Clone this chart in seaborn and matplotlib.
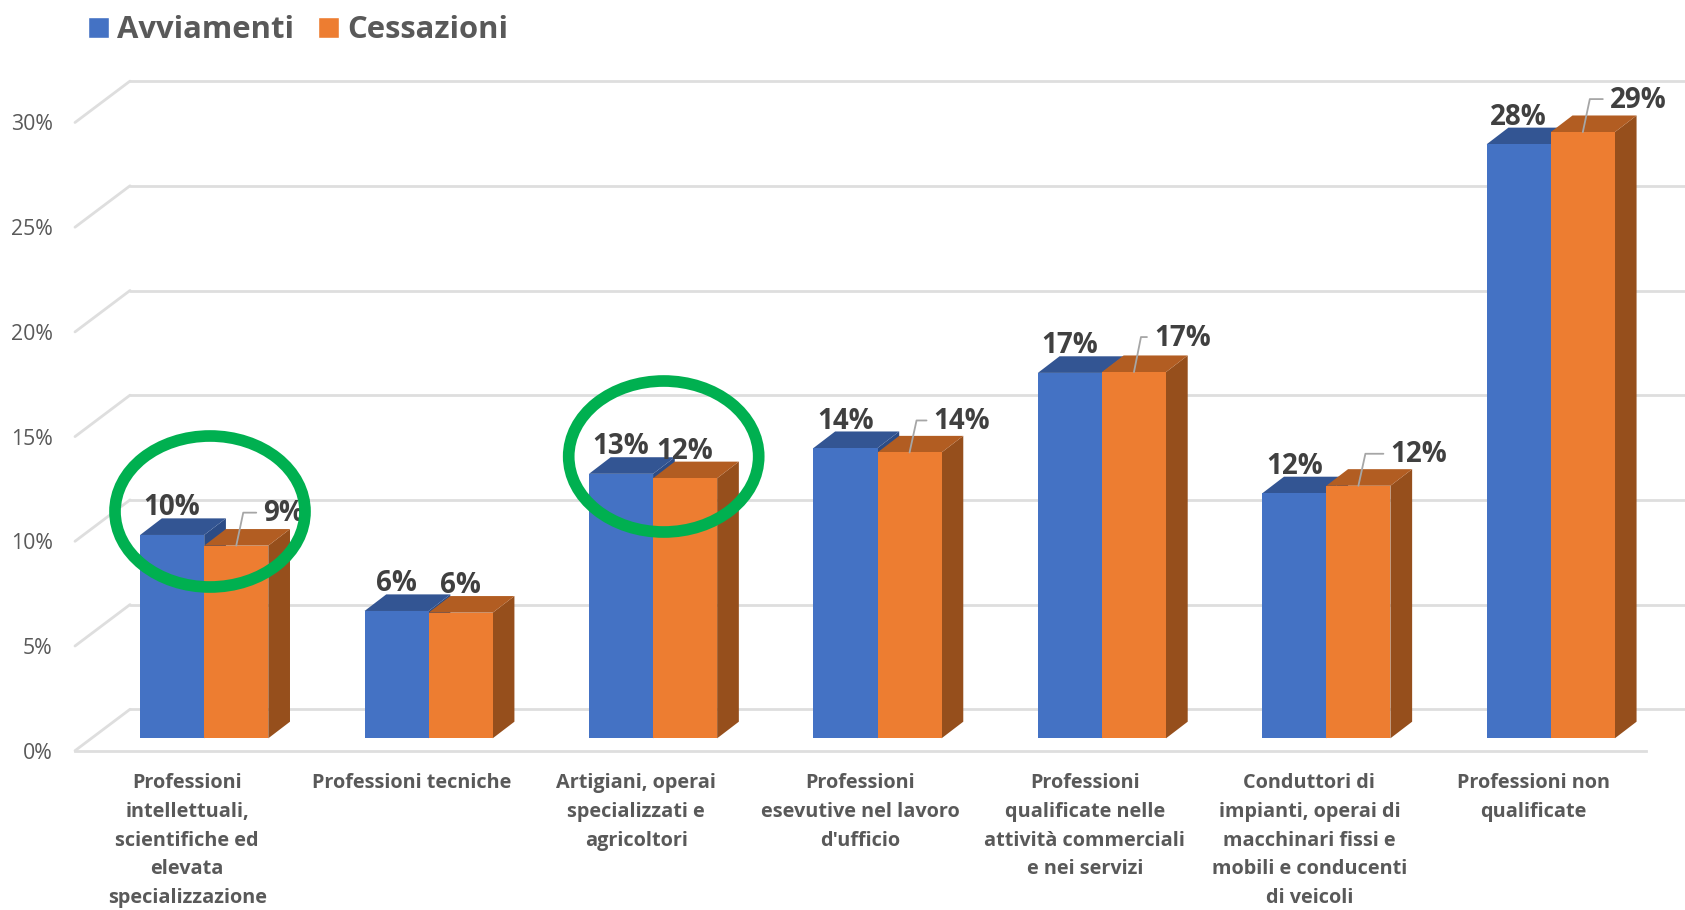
import pandas as pd
import matplotlib
matplotlib.use("Agg")
import matplotlib.pyplot as plt
import seaborn as sns
from matplotlib.patches import Polygon, Ellipse
from matplotlib.transforms import Affine2D, IdentityTransform

categorie = [
    "Professioni\nintellettuali,\nscientifiche ed\nelevata\nspecializzazione",
    "Professioni tecniche",
    "Artigiani, operai\nspecializzati e\nagricoltori",
    "Professioni\nesevutive nel lavoro\nd'ufficio",
    "Professioni\nqualificate nelle\nattività commerciali\ne nei servizi",
    "Conduttori di\nimpianti, operai di\nmacchinari fissi e\nmobili e conducenti\ndi veicoli",
    "Professioni non\nqualificate",
]
avviamenti = [9.71, 6.08, 12.63, 13.86, 17.45, 11.7, 28.37]
cessazioni = [9.2, 6.0, 12.42, 13.65, 17.49, 12.06, 28.95]
tick_y = [0, 5, 10, 15, 20, 25, 30]

# etichette con linea guida (offset in px rispetto al centro della barra)
callout = {0: (27, 32), 3: (24, 31), 4: (20, 34), 5: (32, 31), 6: (27, 32)}

BLU, BLU_TOP, BLU_SIDE = "#4472C4", "#335593", "#2C4C86"
ARA, ARA_TOP, ARA_SIDE = "#ED7D31", "#B25D22", "#964F1C"
GRIGIO = "#DEDEDE"

sns.set_theme(style="white")
plt.rcParams["font.family"] = ["Open Sans", "DejaVu Sans"]

W, H = 1685, 910
fig = plt.figure(figsize=(W / 100, H / 100), dpi=100)
ax = fig.add_axes([75 / W, (H - 750.7) / H, (1646 - 75) / W, 750.7 / H])

df = pd.DataFrame({
    "categoria": categorie * 2,
    "serie": ["Avviamenti"] * 7 + ["Cessazioni"] * 7,
    "valore": avviamenti + cessazioni,
})
sns.barplot(data=df, x="categoria", y="valore", hue="serie", palette=[BLU, ARA],
            width=0.571, gap=0, saturation=1, errorbar=None, ax=ax)

ax.set_xlim(-0.5, 6.5)
ax.set_ylim(0, 750.7 / 20.94)
ax.set_xlabel("")
ax.set_ylabel("")
sns.despine(ax=ax, left=True, top=True, right=True)
ax.spines["bottom"].set_color(GRIGIO)
ax.spines["bottom"].set_linewidth(2)

ax.set_yticks(tick_y)
ax.set_yticklabels([f"{t}%" for t in tick_y], fontsize=15.3, color="#595959")
ax.tick_params(axis="y", length=0, pad=16)
ax.tick_params(axis="x", length=0, pad=16)
for lab in ax.get_xticklabels():
    lab.set_fontsize(14.3)
    lab.set_fontweight("bold")
    lab.set_color("#595959")
    lab.set_linespacing(1.59)

# griglia sul fondo e sul lato sinistro
back_x, back_y = 55 / 224.4, 41.4 / 20.94
for t in tick_y:
    ax.plot([-0.5 + back_x, 7.0], [t + back_y, t + back_y], color=GRIGIO, lw=2,
            clip_on=False, zorder=1)
    ax.plot([-0.5, -0.5 + back_x], [t, t + back_y], color=GRIGIO, lw=2,
            clip_on=False, zorder=1)

# barre: facce frontali da seaborn, lati e tetti aggiunti
front = ax.transData + Affine2D().translate(17, 12.4)
dx, dy = 21.7 / 224.4, 16.6 / 20.94
colori = [(BLU_TOP, BLU_SIDE), (ARA_TOP, ARA_SIDE)]
for s, cont in enumerate(ax.containers):
    top_col, side_col = colori[s]
    for bar in cont:
        bar.set_transform(front)
        bar.set_clip_on(False)
        bar.set_zorder(3.1 + s)
        bar.set_linewidth(0)
        x0 = bar.get_x()
        x1 = x0 + bar.get_width()
        h = bar.get_height()
        ax.add_patch(Polygon([(x1, 0), (x1 + dx, dy), (x1 + dx, h + dy), (x1, h)],
                             color=side_col, lw=0, transform=front, zorder=3 + s, clip_on=False))
        ax.add_patch(Polygon([(x0, h), (x0 + dx, h + dy), (x1 + dx, h + dy), (x1, h)],
                             color=top_col, lw=0, transform=front, zorder=3 + s, clip_on=False))

# etichette dei valori
for s, cont in enumerate(ax.containers):
    for i, bar in enumerate(cont):
        xc = bar.get_x() + bar.get_width() / 2
        h = bar.get_height()
        testo = f"{round(h)}%"
        if s == 1 and i in callout:
            ox, oy = callout[i]
            ax.annotate(testo, xy=(xc, h), xycoords=front, xytext=(ox, oy),
                        textcoords="offset pixels", ha="left", va="center",
                        fontsize=20, fontweight="bold", color="#404040", zorder=6,
                        annotation_clip=False)
            base = front.transform((xc, h))
            xs = [base[0], base[0] + 7, base[0] + ox - 7]
            ys = [base[1], base[1] + oy + 1, base[1] + oy + 1]
            ax.plot(xs, ys, color="#A6A6A6", lw=1.3, transform=IdentityTransform(),
                    clip_on=False, zorder=5)
        else:
            ax.annotate(testo, xy=(xc, h), xycoords=front, xytext=(0, 27),
                        textcoords="offset pixels", ha="center", va="center",
                        fontsize=20, fontweight="bold", color="#404040", zorder=6,
                        annotation_clip=False)

# cerchi verdi
for cx, cy in [(210, 511.5), (663.7, 456.5)]:
    ax.add_patch(Ellipse((cx, H - cy), 190, 151, fill=False, ec="#00B050", lw=8.4,
                         transform=IdentityTransform(), clip_on=False, zorder=8))

handles, labels = ax.get_legend_handles_labels()
ax.legend(handles, labels, loc="upper left", bbox_to_anchor=(88 / W, 1 - 15 / H),
          bbox_transform=fig.transFigure, ncols=2, frameon=False, borderpad=0,
          borderaxespad=0, handlelength=0.68, handleheight=0.68, handletextpad=0.27,
          columnspacing=0.75, labelcolor="#595959",
          prop={"size": 22.3, "weight": "bold", "family": "Open Sans"})

fig.savefig("out.png", dpi=100)
